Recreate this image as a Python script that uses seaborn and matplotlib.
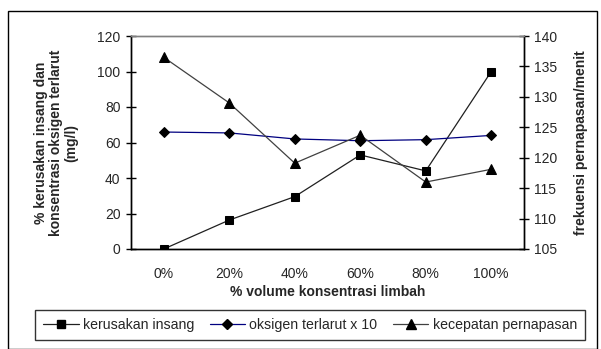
import numpy as np
import pandas as pd
import matplotlib
matplotlib.use("Agg")
import matplotlib.pyplot as plt
import seaborn as sns
from matplotlib.lines import Line2D
from matplotlib.patches import Rectangle

# data
kategori = ["0%", "20%", "40%", "60%", "80%", "100%"]
kerusakan_insang = [0, 16.3, 29.5, 53, 44, 100]
oksigen_x10 = [65.9, 65.4, 62, 61, 61.6, 64]
kecepatan_napas = [136.5, 129, 119.1, 123.7, 116, 118.1]

sns.set_style("white")
plt.rcParams['font.family'] = ['Liberation Sans', 'DejaVu Sans']

df = pd.DataFrame({"x": kategori, "kerusakan": kerusakan_insang,
                   "oksigen": oksigen_x10, "napas": kecepatan_napas})

fig = plt.figure(figsize=(6.01, 3.49), dpi=100)
ax = fig.add_axes([131/601, 1 - 249/349, (524-131)/601, (249-36)/349])
ax2 = ax.twinx()

sns.lineplot(data=df, x="x", y="kerusakan", ax=ax, color="#202020", lw=0.9,
             marker="s", markersize=6, markerfacecolor="black", markeredgecolor="black", sort=False)
sns.lineplot(data=df, x="x", y="oksigen", ax=ax, color="#000080", lw=0.9,
             marker="D", markersize=5, markerfacecolor="black", markeredgecolor="black", sort=False)
sns.lineplot(data=df, x="x", y="napas", ax=ax2, color="#404040", lw=0.9,
             marker="^", markersize=7, markerfacecolor="black", markeredgecolor="black", sort=False)

ax.set_xlim(-0.5, 5.5)
ax.set_ylim(0, 120)
ax.set_yticks(np.arange(0, 121, 20))
ax2.set_ylim(105, 140)
ax2.set_yticks(np.arange(105, 141, 5))

ax.set_xticks(range(6))
ax.set_xticklabels(kategori)
ax.set_xticks(np.arange(0.5, 5, 1), minor=True)
ax.tick_params(axis="x", which="major", length=0, pad=13, labelsize=10)
ax.tick_params(axis="x", which="minor", direction="inout", length=7, width=1, color="black")
ax.tick_params(axis="y", direction="inout", length=7, width=1, color="black", labelsize=10, pad=4, left=True)
ax2.tick_params(axis="y", direction="inout", length=7, width=1, color="black", labelsize=10, pad=4, right=True)

for a in (ax, ax2):
    a.spines["left"].set_color("black")
    a.spines["bottom"].set_color("black")
    a.spines["right"].set_color("black")
    a.spines["top"].set_color("#808080")
    for s in a.spines.values():
        s.set_linewidth(1)
    a.grid(False)

ax.set_xlabel("% volume konsentrasi limbah", fontsize=10, fontweight="bold", labelpad=3)
ax.set_ylabel("% kerusakan insang dan\nkonsentrasi oksigen terlarut\n(mg/l)",
              fontsize=10, fontweight="bold", labelpad=14, linespacing=1.1)
ax2.set_ylabel("frekuensi pernapasan/menit", fontsize=10, fontweight="bold", labelpad=12)

# outer chart frame
fig.patches.append(Rectangle((8/601, 0.5/349), (597-8)/601, (338-0.5)/349, transform=fig.transFigure,
                             fill=False, edgecolor="black", lw=1))

handles = [
    Line2D([], [], color="#202020", lw=0.9, marker="s", markersize=6, markerfacecolor="black", markeredgecolor="black"),
    Line2D([], [], color="#000080", lw=0.9, marker="D", markersize=5, markerfacecolor="black", markeredgecolor="black"),
    Line2D([], [], color="#404040", lw=0.9, marker="^", markersize=7, markerfacecolor="black", markeredgecolor="black"),
]
labels = ["kerusakan insang", "oksigen terlarut x 10", "kecepatan pernapasan"]
leg = fig.legend(handles, labels, loc="center", bbox_to_anchor=(310/601, 1 - 325/349), ncol=3,
                 frameon=True, fancybox=False, edgecolor="black", fontsize=10.2,
                 handlelength=2.5, handletextpad=0.3, columnspacing=1.1, borderpad=0.55)
leg.get_frame().set_linewidth(1)

fig.savefig("out.png", dpi=100)
